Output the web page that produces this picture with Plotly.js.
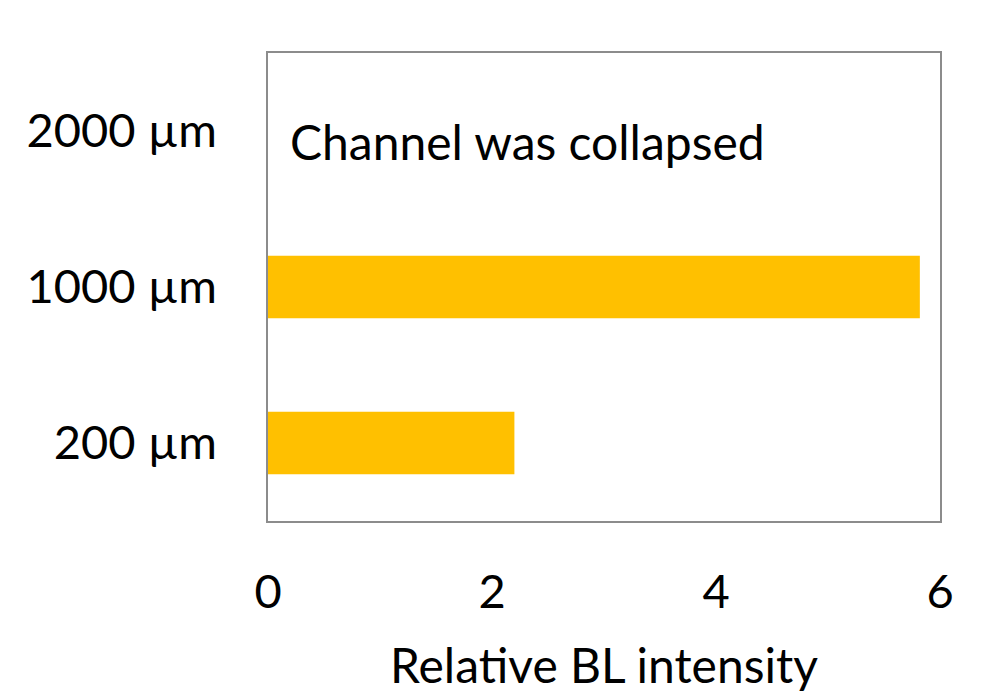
<!DOCTYPE html>
<html>
<head>
<meta charset="utf-8">
<script src="https://cdn.plot.ly/plotly-3.0.1.min.js"></script>
<style>html,body{margin:0;padding:0;background:#fff;}</style>
</head>
<body>
<div id="chart" style="width:1000px;height:700px;"></div>
<script>
const categories = ['200 µm', '1000 µm', '2000 µm'];
const values = [2.2, 5.82, null];
const xTicks = [0, 2, 4, 6];
const noteText = 'Channel was collapsed';
const xTitle = 'Relative BL intensity';

const fontFamily = 'Lato, "Open Sans", sans-serif';

Plotly.newPlot('chart', [{
  type: 'bar',
  orientation: 'h',
  y: categories,
  x: values,
  marker: {color: '#FFC000'},
  hoverinfo: 'x+y'
}], {
  width: 1000, height: 700,
  margin: {l: 268, r: 60, t: 53, b: 179},
  paper_bgcolor: '#fff', plot_bgcolor: '#fff',
  bargap: 0.6,
  showlegend: false,
  font: {family: fontFamily, size: 47, color: '#000'},
  xaxis: {
    range: [0, 6],
    tickvals: xTicks,
    showgrid: false, zeroline: false,
    showline: true, mirror: true, linecolor: '#8c8c8c', linewidth: 1.5,
    ticks: '', ticklabelstandoff: 29,
    title: {text: xTitle, standoff: 32, font: {family: fontFamily, size: 48}}
  },
  yaxis: {
    type: 'category',
    categoryorder: 'array', categoryarray: categories,
    showgrid: false, zeroline: false,
    showline: true, mirror: true, linecolor: '#8c8c8c', linewidth: 1.5,
    ticks: '', ticklabelstandoff: 40
  },
  annotations: [{
    x: 0.18, y: '2000 µm', xref: 'x', yref: 'y',
    text: noteText, showarrow: false,
    xanchor: 'left', yanchor: 'middle', yshift: -10,
    font: {family: fontFamily, size: 48, color: '#000'}
  }]
}, {displayModeBar: false});
</script>
</body>
</html>
